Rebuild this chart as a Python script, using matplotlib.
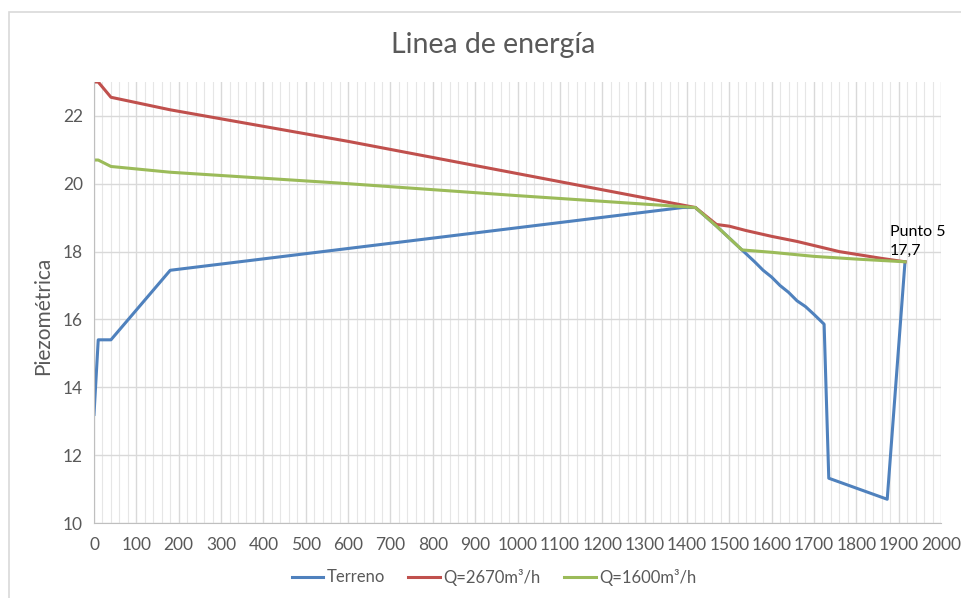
import matplotlib.pyplot as plt
from matplotlib.patches import Rectangle
from matplotlib.ticker import MultipleLocator

plt.rcParams['font.family'] = ['Lato', 'DejaVu Sans']

# Terreno
x_terreno = [0, 10, 40, 180, 1390, 1420, 1470, 1530, 1560, 1580, 1600, 1620, 1640, 1660, 1680, 1700, 1724, 1735, 1873, 1915]
y_terreno = [13.2, 15.4, 15.4, 17.45, 19.3, 19.3, 18.75, 18.05, 17.7, 17.45, 17.25, 17.0, 16.8, 16.55, 16.38, 16.15, 15.86, 11.32, 10.7, 17.7]

# Q=2670 m3/h
x_q1 = [0, 10, 40, 180, 600, 1000, 1420, 1470, 1500, 1540, 1600, 1660, 1700, 1760, 1800, 1860, 1915]
y_q1 = [23.0, 23.0, 22.55, 22.18, 21.25, 20.3, 19.3, 18.8, 18.75, 18.62, 18.45, 18.3, 18.18, 18.0, 17.92, 17.8, 17.7]

# Q=1600 m3/h
x_q2 = [0, 10, 40, 180, 580, 1000, 1420, 1470, 1530, 1600, 1700, 1800, 1915]
y_q2 = [20.7, 20.7, 20.51, 20.34, 20.02, 19.65, 19.3, 18.75, 18.05, 17.98, 17.86, 17.78, 17.7]

fig = plt.figure(figsize=(9.61, 5.98), dpi=100)
ax = fig.add_axes([94/961, 1-523/598, (941-94)/961, (523-82)/598])

ax.plot(x_terreno, y_terreno, color='#4F81BD', lw=2.2, label='Terreno')
ax.plot(x_q1, y_q1, color='#C0504D', lw=2.2, label='Q=2670m³/h')
ax.plot(x_q2, y_q2, color='#9BBB59', lw=2.2, label='Q=1600m³/h')

ax.annotate('Punto 5\n17,7', xy=(1915, 17.7), xytext=(-11, 3), textcoords='offset points',
            ha='left', va='bottom', fontsize=11.5, color='#000000', linespacing=1.45)

ax.set_xlim(0, 2000)
ax.set_ylim(10, 23)
ax.xaxis.set_major_locator(MultipleLocator(100))
ax.xaxis.set_minor_locator(MultipleLocator(20))
ax.yaxis.set_major_locator(MultipleLocator(2))
ax.grid(which='major', axis='both', color='#d9d9d9', lw=1.0)
ax.grid(which='minor', axis='x', color='#e6e6e6', lw=0.8)
ax.set_axisbelow(True)
for s in ['top', 'right']:
    ax.spines[s].set_visible(False)
for s in ['left', 'bottom']:
    ax.spines[s].set_color('#bfbfbf')
ax.tick_params(which='both', length=0, labelsize=12.5, labelcolor='#595959')
ax.tick_params(axis='x', pad=10)
ax.tick_params(axis='y', pad=8)

ax.set_ylabel('Piezométrica', fontsize=15, color='#595959')
ax.yaxis.set_label_coords(-(94-53)/847, 0.47)
fig.text(493/961, 1-45/598, 'Linea de energía', ha='center', va='center', fontsize=20.5, color='#595959')

fig.legend(loc='center', bbox_to_anchor=(494/961, 1-577/598), ncol=3, frameon=False,
           fontsize=12, handlelength=1.9, columnspacing=1.4, handletextpad=0.2,
           labelcolor='#595959')

fig.patches.append(Rectangle((9/961, -0.05), 1.1, 1-12/598+0.05, transform=fig.transFigure,
                             fill=False, edgecolor='#d9d9d9', lw=1.2))

fig.savefig('out.png', dpi=100)
